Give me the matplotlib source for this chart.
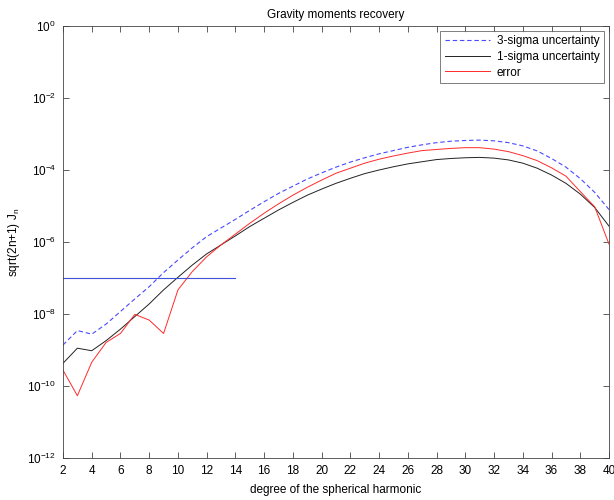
import numpy as np
import matplotlib
matplotlib.use("Agg")
import matplotlib.pyplot as plt

plt.rcParams['font.family'] = ['Liberation Sans', 'DejaVu Sans']

degree = list(range(2, 41))

# log10 exponents (value = 10**(-e))
sigma1_exp = [9.37, 8.95, 9.02, 8.74, 8.42, 8.07, 7.72, 7.33, 6.98, 6.64, 6.33,
              6.08, 5.83, 5.57, 5.34, 5.11, 4.90, 4.70, 4.53, 4.37, 4.23, 4.10,
              4.00, 3.91, 3.83, 3.77, 3.71, 3.68, 3.66, 3.65, 3.67, 3.72, 3.81,
              3.95, 4.14, 4.37, 4.67, 5.04, 5.56]
sigma3_exp = [8.86, 8.46, 8.56, 8.28, 7.93, 7.58, 7.24, 6.85, 6.50, 6.16, 5.85,
              5.61, 5.37, 5.12, 4.88, 4.65, 4.45, 4.25, 4.08, 3.92, 3.78, 3.66,
              3.55, 3.46, 3.37, 3.30, 3.24, 3.20, 3.18, 3.17, 3.19, 3.24, 3.33,
              3.47, 3.68, 3.92, 4.24, 4.62, 5.10]
error_exp = [9.56, 10.27, 9.34, 8.79, 8.54, 8.01, 8.17, 8.54, 7.33, 6.82, 6.41,
             6.08, 5.78, 5.48, 5.20, 4.94, 4.70, 4.48, 4.28, 4.09, 3.95, 3.81,
             3.70, 3.61, 3.53, 3.46, 3.43, 3.40, 3.38, 3.38, 3.42, 3.49, 3.60,
             3.74, 3.94, 4.17, 4.60, 5.02, 6.06]

sigma3 = [10 ** (-e) for e in sigma3_exp]
sigma1 = [10 ** (-e) for e in sigma1_exp]
error = [10 ** (-e) for e in error_exp]

threshold_x = [2, 14]
threshold_y = [1e-7, 1e-7]

xticks = list(range(2, 41, 2))
yticks = [1e-12, 1e-10, 1e-8, 1e-6, 1e-4, 1e-2, 1e0]

fig = plt.figure(figsize=(6.14, 5.00), dpi=100)
ax = fig.add_axes([0.1026, 0.084, 0.8893, 0.864])

ax.semilogy(degree, sigma3, color='#4a4aff', linestyle=(0, (4, 2.5)), linewidth=0.8,
            label='3-sigma uncertainty')
ax.semilogy(degree, sigma1, color='#222222', linewidth=0.7, label='1-sigma uncertainty')
ax.semilogy(degree, error, color='#ff2a2a', linewidth=0.7, label='error')
ax.semilogy(threshold_x, threshold_y, color='#4050d8', linewidth=0.8)

ax.set_xlim(2, 40)
ax.set_ylim(1e-12, 1e0)
ax.set_xticks(xticks)
ax.set_xticklabels([str(t) for t in xticks])
ax.set_yticks(yticks)
ax.yaxis.set_minor_locator(matplotlib.ticker.NullLocator())
ax.set_yticklabels([r'$\mathregular{10^{%d}}$' % int(np.log10(t)) for t in yticks])

ax.tick_params(axis='both', which='both', direction='in', top=True, right=True,
               length=4, width=0.6, labelsize=8.5, pad=5, color='#444444')
for s in ax.spines.values():
    s.set_linewidth(0.6)
    s.set_color('#444444')

ax.set_title('Gravity moments recovery', fontsize=8.5, pad=6)
ax.set_xlabel('degree of the spherical harmonic', fontsize=8.5, labelpad=5)
ax.set_ylabel(r'sqrt(2n+1) J$_\mathregular{n}$', fontsize=8.5, labelpad=4)

leg = ax.legend(loc='upper right', fontsize=8.5, frameon=True, fancybox=False,
                edgecolor='#444444', borderpad=0.4, labelspacing=0.3,
                handlelength=3.8, handletextpad=0.6, borderaxespad=0.4)
leg.get_frame().set_linewidth(0.6)

fig.savefig('out.png', dpi=100)
